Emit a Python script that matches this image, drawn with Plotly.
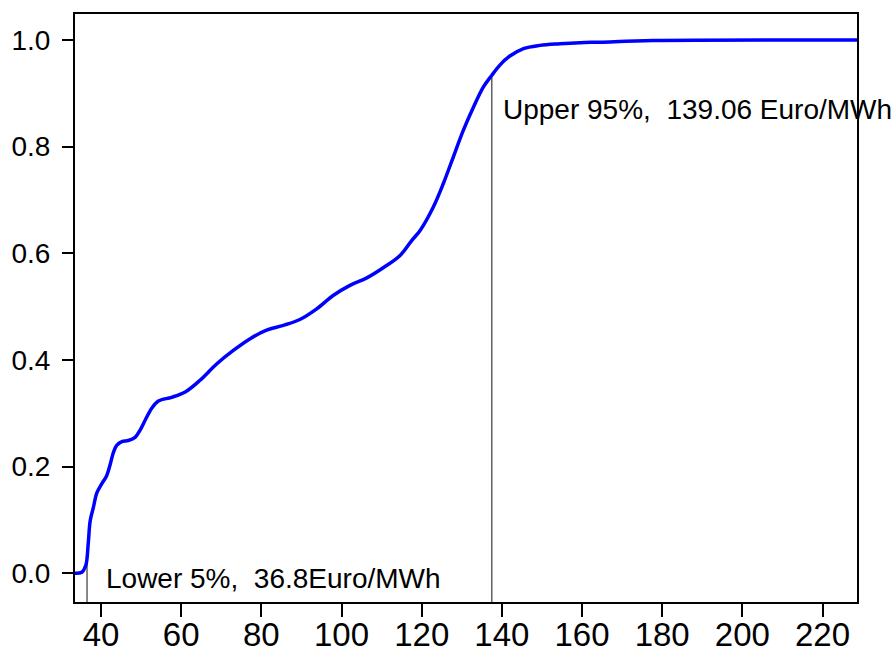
import plotly.graph_objects as go

# CDF curve points (price in Euro/MWh, cumulative probability)
price = [33.5, 35.2, 36.2, 36.8, 37.3, 38.1, 38.9, 40.2, 41.4, 42.2, 43.1, 43.9, 45.2, 46.8,
         48.5, 49.7, 51.0, 52.6, 54.3, 57.6, 61.0, 64.7, 68.9, 73.0, 77.2, 81.3, 85.5, 89.6,
         93.8, 97.9, 102.1, 106.3, 110.4, 114.6, 117.5, 119.6, 122.9, 125.4, 127.9, 130.4,
         132.9, 135.4, 137.5, 139.5, 142.0, 145.4, 149.5, 154.5, 159.5, 164.5, 177.7, 228.6]
cdf = [0.0, 0.002, 0.015, 0.056, 0.099, 0.124, 0.15, 0.168, 0.183, 0.202, 0.227, 0.24, 0.247,
       0.249, 0.255, 0.268, 0.287, 0.309, 0.323, 0.33, 0.34, 0.362, 0.393, 0.418, 0.44, 0.456,
       0.465, 0.476, 0.496, 0.521, 0.54, 0.554, 0.573, 0.596, 0.624, 0.643, 0.687, 0.731,
       0.781, 0.831, 0.874, 0.912, 0.934, 0.953, 0.97, 0.984, 0.99, 0.993, 0.995, 0.996,
       0.999, 1.0]

# marker lines (x position, top of line)
lower_x, lower_top = 36.5, 0.04
upper_x, upper_top = 137.5, 0.934
lower_label = "Lower 5%,  36.8Euro/MWh"
upper_label = "Upper 95%,  139.06 Euro/MWh"

x_ticks = [40, 60, 80, 100, 120, 140, 160, 180, 200, 220]
y_ticks = [0.0, 0.2, 0.4, 0.6, 0.8, 1.0]

x_range = [33.5, 228.6]
y_range = [-0.0538, 1.0488]

FONT = "Arial, Liberation Sans, sans-serif"

fig = go.Figure()
fig.add_trace(go.Scatter(x=[lower_x, lower_x], y=[y_range[0], lower_top], mode="lines",
                         line=dict(color="#111111", width=1), showlegend=False, hoverinfo="skip"))
fig.add_trace(go.Scatter(x=[upper_x, upper_x], y=[y_range[0], upper_top], mode="lines",
                         line=dict(color="#111111", width=1), showlegend=False, hoverinfo="skip"))
fig.add_trace(go.Scatter(x=price, y=cdf, mode="lines", line=dict(color="#0000FF", width=3.5),
                         showlegend=False, line_shape="spline"))

fig.add_annotation(x=139.9, y=0.87, text=upper_label, showarrow=False, xanchor="left",
                   yanchor="middle", font=dict(family=FONT, size=28, color="black"))
fig.add_annotation(x=40.8, y=-0.01, text=lower_label, showarrow=False, xanchor="left",
                   yanchor="middle", font=dict(family=FONT, size=28, color="black"))

fig.update_xaxes(range=x_range, tickvals=x_ticks, showline=True, mirror=True, linecolor="black",
                 linewidth=2, ticks="outside", ticklen=13, tickwidth=2, tickcolor="black",
                 showgrid=False, zeroline=False, automargin=False, ticklabelstandoff=-11,
                 tickfont=dict(family=FONT, size=33, color="black"))
fig.update_yaxes(range=y_range, tickvals=y_ticks, tickformat=".1f", showline=True, mirror=True,
                 linecolor="black", linewidth=2, ticks="outside", ticklen=11, tickwidth=2,
                 tickcolor="black", showgrid=False, zeroline=False, ticklabelstandoff=6,
                 automargin=False, tickfont=dict(family=FONT, size=28, color="black"))

fig.update_layout(width=895, height=655, margin=dict(l=75, r=38, t=14, b=53),
                  plot_bgcolor="white", paper_bgcolor="white")

fig.write_html("out.html")
